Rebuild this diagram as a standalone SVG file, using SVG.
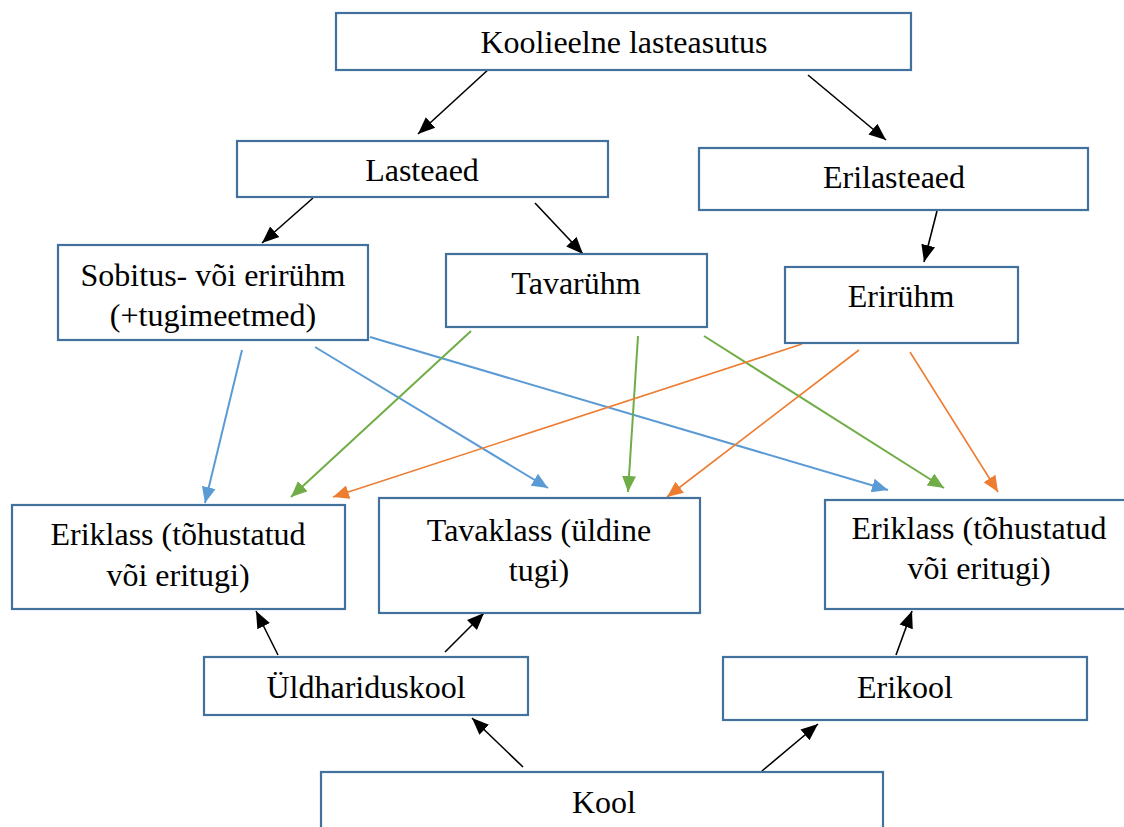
<svg xmlns="http://www.w3.org/2000/svg" width="1124" height="827" viewBox="0 0 1124 827">
<style>
.box{fill:#fff;stroke:#41719C;stroke-width:2.2}
text{font-family:"Liberation Serif","DejaVu Serif","Times New Roman",serif;font-size:32px;fill:#000;text-anchor:middle}
.k{stroke:#000;stroke-width:1.6;fill:none}
.b{stroke:#5B9BD5;stroke-width:2;fill:none}
.g{stroke:#70AD47;stroke-width:2;fill:none}
.o{stroke:#ED7D31;stroke-width:1.6;fill:none}
</style>
<defs>
<marker id="ak" markerUnits="userSpaceOnUse" markerWidth="20" markerHeight="16" refX="17" refY="8" orient="auto"><path d="M0,1 L17,8 L0,15 Z" fill="#000"/></marker>
<marker id="ab" markerUnits="userSpaceOnUse" markerWidth="18" markerHeight="14" refX="16" refY="7" orient="auto"><path d="M0,0 L16,7 L0,14 Z" fill="#5B9BD5"/></marker>
<marker id="ag" markerUnits="userSpaceOnUse" markerWidth="18" markerHeight="14" refX="16" refY="7" orient="auto"><path d="M0,0 L16,7 L0,14 Z" fill="#70AD47"/></marker>
<marker id="ao" markerUnits="userSpaceOnUse" markerWidth="18" markerHeight="14" refX="16" refY="7" orient="auto"><path d="M0,0 L16,7 L0,14 Z" fill="#ED7D31"/></marker>
</defs>
<rect width="1124" height="827" fill="#fff"/>
<g id="connectors">
<line class="k" x1="490" y1="68" x2="418" y2="134" marker-end="url(#ak)"/>
<line class="k" x1="808" y1="75" x2="886" y2="140" marker-end="url(#ak)"/>
<line class="k" x1="313" y1="198" x2="262" y2="243" marker-end="url(#ak)"/>
<line class="k" x1="535" y1="203" x2="583" y2="254" marker-end="url(#ak)"/>
<line class="k" x1="937" y1="211" x2="924" y2="262" marker-end="url(#ak)"/>
<line class="k" x1="278" y1="655" x2="256" y2="611" marker-end="url(#ak)"/>
<line class="k" x1="445" y1="652" x2="484" y2="613" marker-end="url(#ak)"/>
<line class="k" x1="896" y1="655" x2="912" y2="611" marker-end="url(#ak)"/>
<line class="k" x1="523" y1="767" x2="472" y2="718" marker-end="url(#ak)"/>
<line class="k" x1="762" y1="771" x2="818" y2="724" marker-end="url(#ak)"/>
<line class="b" x1="242" y1="350" x2="205" y2="503" marker-end="url(#ab)"/>
<line class="b" x1="315" y1="347" x2="548" y2="488" marker-end="url(#ab)"/>
<line class="b" x1="370" y1="337" x2="888" y2="490" marker-end="url(#ab)"/>
<line class="g" x1="471" y1="331" x2="291" y2="497" marker-end="url(#ag)"/>
<line class="g" x1="638" y1="336" x2="628" y2="492" marker-end="url(#ag)"/>
<line class="g" x1="704" y1="336" x2="944" y2="488" marker-end="url(#ag)"/>
<line class="o" x1="802" y1="344" x2="333" y2="497" marker-end="url(#ao)"/>
<line class="o" x1="859" y1="350" x2="667" y2="497" marker-end="url(#ao)"/>
<line class="o" x1="910" y1="352" x2="998" y2="492" marker-end="url(#ao)"/>
</g>
<g id="koolieelne"><rect class="box" x="336" y="13" width="575" height="57"/><text x="624" y="53">Koolieelne lasteasutus</text></g>
<g id="lasteaed"><rect class="box" x="237" y="141" width="371" height="56"/><text x="422" y="181">Lasteaed</text></g>
<g id="erilasteaed"><rect class="box" x="699" y="148" width="389" height="62"/><text x="894" y="188">Erilasteaed</text></g>
<g id="sobitus"><rect class="box" x="58" y="245" width="310" height="95"/><text x="213" y="286">Sobitus- või erirühm</text><text x="213" y="326">(+tugimeetmed)</text></g>
<g id="tavaryhm"><rect class="box" x="446" y="254" width="261" height="73"/><text x="576" y="294">Tavarühm</text></g>
<g id="eriryhm"><rect class="box" x="785" y="267" width="233" height="76"/><text x="901" y="307">Erirühm</text></g>
<g id="eriklass1"><rect class="box" x="12" y="505" width="333" height="104"/><text x="178" y="545">Eriklass (tõhustatud</text><text x="178" y="586">või eritugi)</text></g>
<g id="tavaklass"><rect class="box" x="379" y="498" width="321" height="115"/><text x="539" y="541">Tavaklass (üldine</text><text x="539" y="581">tugi)</text></g>
<g id="eriklass2"><rect class="box" x="825" y="500" width="310" height="109"/><text x="979" y="539">Eriklass (tõhustatud</text><text x="979" y="579">või eritugi)</text></g>
<g id="yldhariduskool"><rect class="box" x="204" y="657" width="324" height="58"/><text x="366" y="698">Üldhariduskool</text></g>
<g id="erikool"><rect class="box" x="723" y="657" width="364" height="63"/><text x="905" y="698">Erikool</text></g>
<g id="kool"><rect class="box" x="321" y="772" width="562" height="70"/><text x="604" y="813">Kool</text></g>
</svg>
